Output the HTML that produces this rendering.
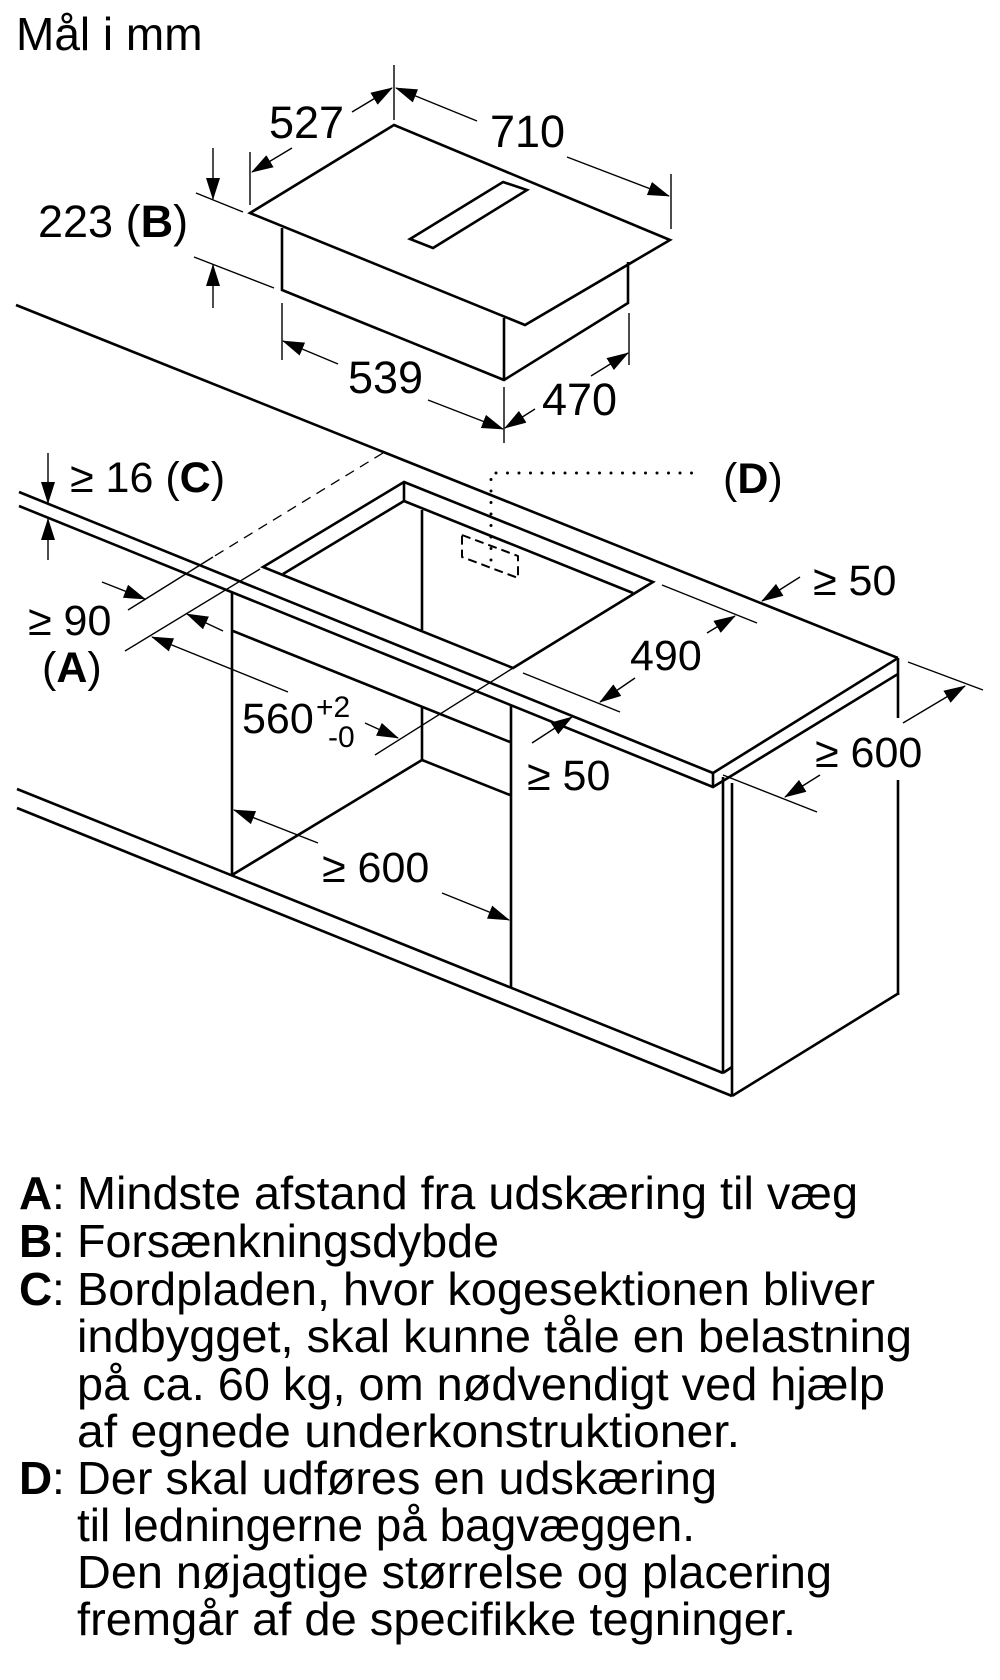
<!DOCTYPE html>
<html><head><meta charset="utf-8"><style>
html,body{margin:0;padding:0;background:#fff;}
svg{display:block;}
text{font-family:"Liberation Sans",Arial,sans-serif;fill:#000;}
</style></head><body>
<svg width="1000" height="1680" viewBox="0 0 1000 1680" xmlns="http://www.w3.org/2000/svg">
<defs>
<marker id="a" markerUnits="userSpaceOnUse" markerWidth="22" markerHeight="14" refX="21" refY="7" orient="auto">
<path d="M0,0 L22,7 L0,14 z" fill="#000"/>
</marker>
</defs>
<text x="16" y="50" font-size="46">Mål i mm</text>

<!-- hob -->
<g fill="none" stroke="#000" stroke-width="2.6" stroke-linejoin="miter">
<polygon points="394,125 250,213 525,325 670,240"/>
<polygon points="503,182 527,190 433,248 410,239"/>
<polyline points="282,228 282,290 504,380 628,303 628,262"/>
<line x1="504" y1="318" x2="504" y2="380"/>
</g>
<!-- hob dims -->
<g fill="none" stroke="#000" stroke-width="1.4">
<line x1="394" y1="65" x2="394" y2="120"/>
<line x1="250" y1="152" x2="250" y2="205"/>
<line x1="671" y1="174" x2="671" y2="229"/>
<line x1="196" y1="193" x2="243" y2="212"/>
<line x1="194" y1="257" x2="274" y2="288"/>
<line x1="282" y1="303" x2="282" y2="360"/>
<line x1="504" y1="387" x2="504" y2="443"/>
<line x1="629" y1="313" x2="629" y2="365"/>
<line x1="352" y1="112" x2="392" y2="88" marker-end="url(#a)"/>
<line x1="292" y1="148" x2="252" y2="172" marker-end="url(#a)"/>
<line x1="477" y1="121" x2="396" y2="88" marker-end="url(#a)"/>
<line x1="567" y1="157" x2="669" y2="196" marker-end="url(#a)"/>
<line x1="213" y1="148" x2="213" y2="199" marker-end="url(#a)"/>
<line x1="213" y1="308" x2="213" y2="265" marker-end="url(#a)"/>
<line x1="338" y1="364" x2="283" y2="341" marker-end="url(#a)"/>
<line x1="428" y1="400" x2="503" y2="429" marker-end="url(#a)"/>
<line x1="591" y1="376" x2="628" y2="353" marker-end="url(#a)"/>
<line x1="535" y1="409" x2="505" y2="428" marker-end="url(#a)"/>
</g>
<text x="269" y="138" font-size="45">527</text>
<text x="490" y="147" font-size="45">710</text>
<text x="38" y="237" font-size="45">223 (<tspan font-weight="bold">B</tspan>)</text>
<text x="348" y="393" font-size="45">539</text>
<text x="542" y="415" font-size="45">470</text>

<!-- worktop / cabinets -->
<g fill="none" stroke="#000" stroke-width="2.6">
<line x1="16" y1="305" x2="898" y2="658"/>
<polyline points="19,492 713,773 898,658"/>
<polyline points="19,506 713,787 898,674"/>
<line x1="713" y1="773" x2="713" y2="787"/>
<line x1="898" y1="658" x2="898" y2="718"/>
<line x1="898" y1="780" x2="898" y2="995"/>
<line x1="723" y1="777" x2="723" y2="1073"/>
<polyline points="723,1073 732,1067"/>
<line x1="732" y1="783" x2="732" y2="1096"/>
<line x1="732" y1="1096" x2="899" y2="993"/>
<line x1="17" y1="789" x2="723" y2="1073"/>
<line x1="17" y1="808" x2="732" y2="1096"/>
<!-- cutout -->
<polygon points="404,482 263,567 513,668 653,582"/>
<line x1="404" y1="482" x2="404" y2="501"/>
<line x1="404" y1="501" x2="633" y2="593"/>
<line x1="404" y1="501" x2="283" y2="574"/>
<line x1="422" y1="510" x2="422" y2="630"/>
<!-- cabinet interior -->
<line x1="232" y1="593" x2="232" y2="875"/>
<line x1="233" y1="631" x2="510" y2="742"/>
<line x1="422" y1="707" x2="422" y2="760"/>
<line x1="422" y1="760" x2="510" y2="795"/>
<line x1="232" y1="875" x2="422" y2="760"/>
<line x1="511" y1="705" x2="511" y2="987"/>
</g>
<!-- dashed / dotted -->
<line x1="383" y1="453" x2="213" y2="557" stroke="#000" stroke-width="1.3" stroke-dasharray="10,7"/>
<polygon points="462,535 518,556 518,578 462,557" fill="none" stroke="#000" stroke-width="2" stroke-dasharray="9,5" stroke-linejoin="round"/>
<polyline points="491,560 491,473 703,473" fill="none" stroke="#000" stroke-width="3" stroke-dasharray="0,11.5" stroke-linecap="round"/>
<text x="723" y="493" font-size="43">(<tspan font-weight="bold">D</tspan>)</text>

<!-- worktop dims -->
<g fill="none" stroke="#000" stroke-width="1.4">
<line x1="213" y1="557" x2="128" y2="610"/>
<line x1="260" y1="569" x2="125" y2="651"/>
<line x1="513" y1="668" x2="375" y2="755"/>
<line x1="662" y1="585" x2="757" y2="623"/>
<line x1="523" y1="673" x2="620" y2="712"/>
<line x1="908" y1="662" x2="983" y2="690"/>
<line x1="723" y1="775" x2="817" y2="812"/>
<line x1="48" y1="453" x2="48" y2="503" marker-end="url(#a)"/>
<line x1="48" y1="560" x2="48" y2="519" marker-end="url(#a)"/>
<line x1="102" y1="582" x2="145" y2="599" marker-end="url(#a)"/>
<line x1="223" y1="631" x2="187" y2="614" marker-end="url(#a)"/>
<line x1="288" y1="692" x2="152" y2="637" marker-end="url(#a)"/>
<line x1="365" y1="723" x2="398" y2="738" marker-end="url(#a)"/>
<line x1="318" y1="843" x2="234" y2="810" marker-end="url(#a)"/>
<line x1="442" y1="893" x2="509" y2="920" marker-end="url(#a)"/>
<line x1="707" y1="633" x2="735" y2="616" marker-end="url(#a)"/>
<line x1="635" y1="678" x2="600" y2="702" marker-end="url(#a)"/>
<line x1="800" y1="577" x2="762" y2="601" marker-end="url(#a)"/>
<line x1="532" y1="743" x2="572" y2="717" marker-end="url(#a)"/>
<line x1="903" y1="723" x2="965" y2="686" marker-end="url(#a)"/>
<line x1="820" y1="775" x2="785" y2="797" marker-end="url(#a)"/>
</g>
<text x="70" y="492" font-size="43">≥ 16 (<tspan font-weight="bold">C</tspan>)</text>
<text x="28" y="635" font-size="43">≥ 90</text>
<text x="42" y="682" font-size="43">(<tspan font-weight="bold">A</tspan>)</text>
<text x="242" y="733" font-size="43">560</text>
<text x="316" y="717" font-size="30">+2</text>
<text x="328" y="747" font-size="30">-0</text>
<text x="322" y="882" font-size="43">≥ 600</text>
<text x="630" y="670" font-size="43">490</text>
<text x="813" y="595" font-size="43">≥ 50</text>
<text x="527" y="790" font-size="43">≥ 50</text>
<text x="815" y="767" font-size="43">≥ 600</text>

<!-- legend -->
<g font-size="46">
<text x="19" y="1209" font-weight="bold">A</text><text x="52" y="1209">:</text>
<text x="77" y="1209" textLength="781" lengthAdjust="spacingAndGlyphs">Mindste afstand fra udskæring til væg</text>
<text x="19" y="1257" font-weight="bold">B</text><text x="52" y="1257">:</text>
<text x="77" y="1257" textLength="422" lengthAdjust="spacingAndGlyphs">Forsænkningsdybde</text>
<text x="19" y="1305" font-weight="bold">C</text><text x="52" y="1305">:</text>
<text x="77" y="1305" textLength="798" lengthAdjust="spacingAndGlyphs">Bordpladen, hvor kogesektionen bliver</text>
<text x="77" y="1352" textLength="835" lengthAdjust="spacingAndGlyphs">indbygget, skal kunne tåle en belastning</text>
<text x="77" y="1400" textLength="808" lengthAdjust="spacingAndGlyphs">på ca. 60 kg, om nødvendigt ved hjælp</text>
<text x="77" y="1447" textLength="663" lengthAdjust="spacingAndGlyphs">af egnede underkonstruktioner.</text>
<text x="19" y="1494" font-weight="bold">D</text><text x="52" y="1494">:</text>
<text x="77" y="1494" textLength="640" lengthAdjust="spacingAndGlyphs">Der skal udføres en udskæring</text>
<text x="77" y="1541" textLength="618" lengthAdjust="spacingAndGlyphs">til ledningerne på bagvæggen.</text>
<text x="77" y="1588" textLength="755" lengthAdjust="spacingAndGlyphs">Den nøjagtige størrelse og placering</text>
<text x="77" y="1635" textLength="719" lengthAdjust="spacingAndGlyphs">fremgår af de specifikke tegninger.</text>
</g>
</svg>
</body></html>
